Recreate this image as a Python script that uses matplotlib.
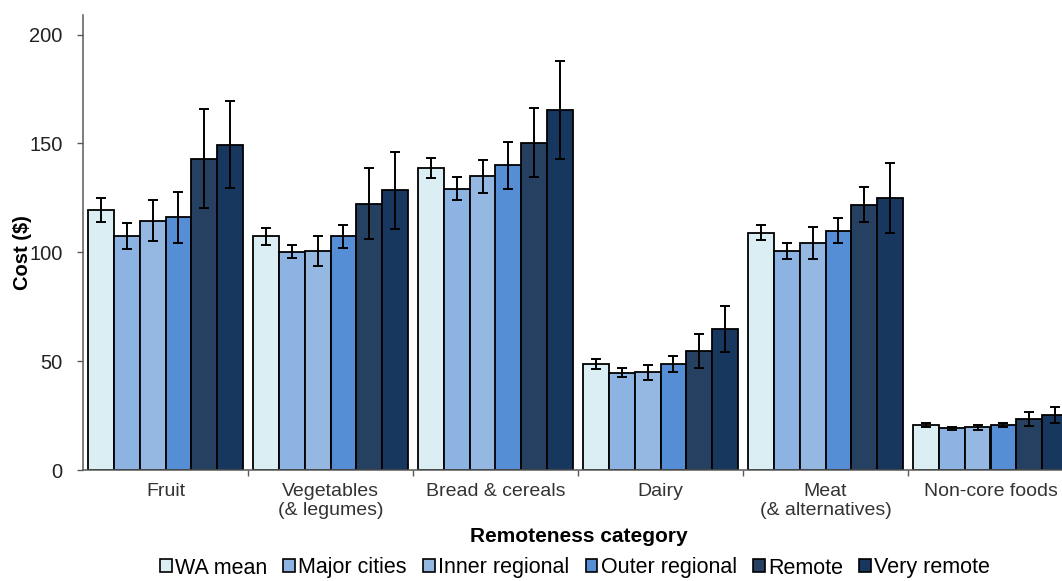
import matplotlib

matplotlib.use("Agg")
import matplotlib.pyplot as plt  # noqa: E402
import numpy as np  # noqa: E402
from matplotlib.patches import Patch  # noqa: E402

plt.rcParams.update({"font.family": ["Liberation Sans", "DejaVu Sans"], "font.size": 14})

categories = [
    "Fruit",
    "Vegetables\n(& legumes)",
    "Bread & cereals",
    "Dairy",
    "Meat\n(& alternatives)",
    "Non-core foods",
]
regions = ["WA mean", "Major cities", "Inner regional", "Outer regional", "Remote", "Very remote"]
colors = ["#daeef3", "#8db3e2", "#95b8e3", "#558ed5", "#254061", "#17375e"]

# mean cost per food group, one list per remoteness category
wa_mean = [119.5, 107.3, 138.5, 48.6, 109.0, 20.7]
major_cities = [107.3, 100.3, 129.2, 44.7, 100.8, 19.1]
inner_regional = [114.5, 100.6, 135.0, 44.8, 104.3, 19.6]
outer_regional = [116.0, 107.3, 140.0, 48.6, 110.0, 20.7]
remote = [143.0, 122.3, 150.3, 54.8, 121.8, 23.3]
very_remote = [149.5, 128.5, 165.5, 64.8, 124.8, 25.3]

# half-width of the error bars
wa_mean_err = [5.5, 3.9, 4.6, 2.3, 3.4, 1.0]
major_cities_err = [6.0, 3.0, 5.4, 2.0, 3.7, 0.6]
inner_regional_err = [9.4, 6.7, 7.6, 3.5, 7.4, 1.2]
outer_regional_err = [11.7, 5.3, 10.7, 3.8, 5.6, 1.0]
remote_err = [22.7, 16.4, 15.8, 7.8, 8.0, 3.3]
very_remote_err = [19.8, 17.6, 22.5, 10.6, 16.0, 3.8]

means = [wa_mean, major_cities, inner_regional, outer_regional, remote, very_remote]
errs = [wa_mean_err, major_cities_err, inner_regional_err, outer_regional_err, remote_err, very_remote_err]

W, H = 1062, 581
fig = plt.figure(figsize=(W / 100, H / 100), dpi=100)
ax = fig.add_axes([83 / W, 1 - 470 / H, 990 / W, 455 / H])

x = np.arange(len(categories))
w = 0.156
for j, (vals, err, c) in enumerate(zip(means, errs, colors)):
    ax.bar(
        x + (j - 2.5) * w, vals, w, color=c, edgecolor="black", linewidth=1.3,
        yerr=err, capsize=3.5, error_kw={"elinewidth": 1.4, "capthick": 1.4, "ecolor": "black"},
        zorder=2,
    )

ax.set_xlim(-0.5, len(categories) - 0.5)
ax.set_ylim(0, 209)
ax.set_yticks([0, 50, 100, 150, 200])
ax.set_xticks(x)
ax.set_xticklabels(categories, linespacing=1.2)
ax.set_xticks(np.arange(0.5, len(categories) - 0.5), minor=True)

for side in ("top", "right"):
    ax.spines[side].set_visible(False)
for side in ("left", "bottom"):
    ax.spines[side].set_color("#5a5a5a")
    ax.spines[side].set_linewidth(1.1)

ax.tick_params(axis="x", which="major", length=0, pad=9, colors="#333333")
ax.tick_params(axis="x", which="minor", length=4, width=1, color="#5a5a5a", direction="out")
ax.tick_params(axis="y", length=4.5, width=1, color="#5a5a5a", pad=10, labelsize=14.5, labelcolor="#222222")

fig.text(22 / W, 1 - 253 / H, "Cost ($)", fontweight="bold", fontsize=14.5,
         rotation=90, ha="center", va="center")
fig.text(579 / W, 1 - 537 / H, "Remoteness category", fontweight="bold", fontsize=15,
         ha="center", va="center")

handles = [Patch(facecolor=c, edgecolor="black", linewidth=1.2) for c in colors]
fig.legend(
    handles, regions, loc="center", bbox_to_anchor=(575 / W, 1 - 568 / H), ncol=6,
    frameon=False, fontsize=15.5, handlelength=0.55, handleheight=0.55, handletextpad=0.15,
    columnspacing=0.75,
)

fig.savefig("out.png", dpi=100)
